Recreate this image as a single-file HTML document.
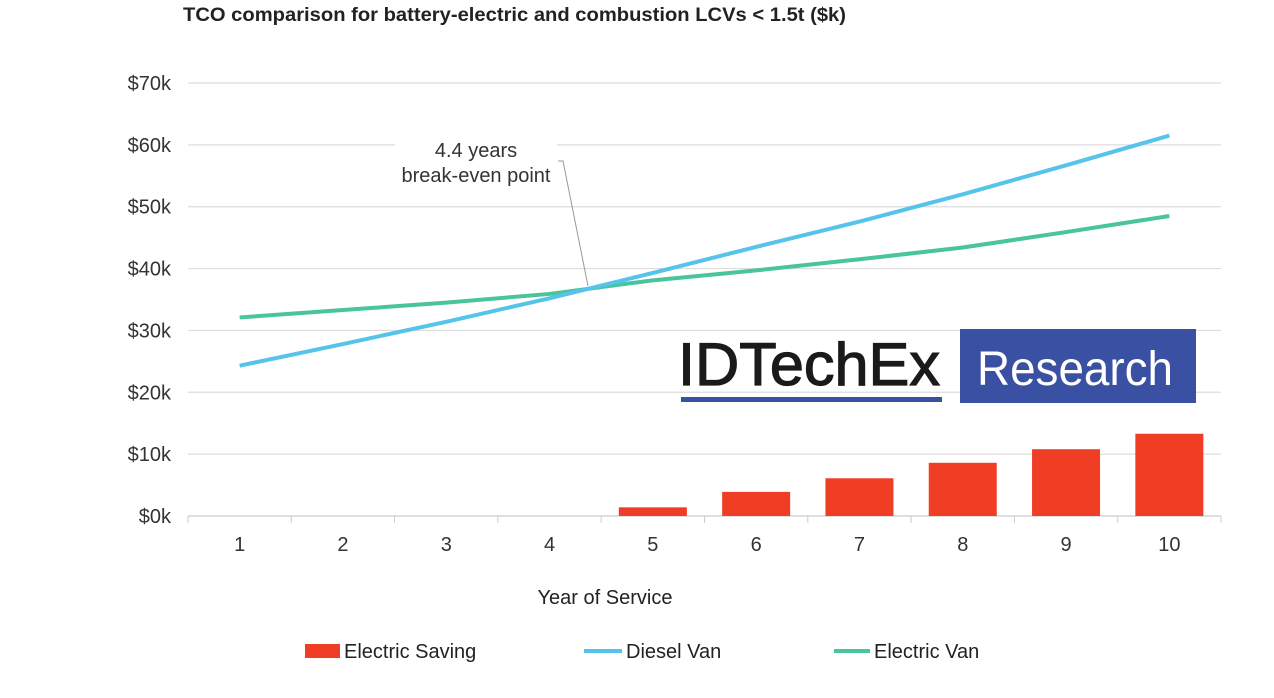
<!DOCTYPE html>
<html><head><meta charset="utf-8"><style>
body{margin:0;background:#fff;width:1274px;height:693px;overflow:hidden;font-family:"Liberation Sans",sans-serif}
</style></head><body>
<svg id="c" width="1274" height="693" xmlns="http://www.w3.org/2000/svg" font-family="Liberation Sans, sans-serif">
<text x="183" y="21" font-size="19.5" font-weight="bold" fill="#222" textLength="663" lengthAdjust="spacingAndGlyphs">TCO comparison for battery-electric and combustion LCVs &lt; 1.5t ($k)</text>
<g id="grid"></g><g id="bars"></g><g id="lines"></g>
<g>
<rect x="395" y="138" width="162" height="52" fill="#fff"/>
<text x="476" y="157" font-size="20" fill="#333" text-anchor="middle">4.4 years</text>
<text x="476" y="182" font-size="20" fill="#333" text-anchor="middle">break-even point</text>
<polyline points="558,161 563,161 588,286" fill="none" stroke="#999" stroke-width="1"/>
</g>
<g>
<text x="678" y="385" font-size="60" fill="#1a1a1a" stroke="#1a1a1a" stroke-width="1.2" textLength="262" lengthAdjust="spacingAndGlyphs">IDTechEx</text>
<rect x="681" y="397" width="261" height="5" fill="#3a50a2"/>
<rect x="960" y="329" width="236" height="74" fill="#3a50a2"/>
<text x="977" y="385" font-size="48" fill="#fff" textLength="196" lengthAdjust="spacingAndGlyphs">Research</text>
</g>
<text x="605" y="604" font-size="20" fill="#222" text-anchor="middle">Year of Service</text>
<g>
<g><rect x="305" y="644" width="35" height="14" fill="#ef3e23"/><text x="344" y="658" font-size="20" fill="#222">Electric Saving</text></g>
<g><line x1="584" y1="651" x2="622" y2="651" stroke="#55c3ea" stroke-width="4"/><text x="626" y="658" font-size="20" fill="#222">Diesel Van</text></g>
<g><line x1="834" y1="651" x2="870" y2="651" stroke="#49c49b" stroke-width="4"/><text x="874" y="658" font-size="20" fill="#222">Electric Van</text></g>
</g>
</svg>
<script>
const years=[1,2,3,4,5,6,7,8,9,10];
const saving=[0,0,0,0,1.4,3.9,6.1,8.6,10.8,13.3];
const diesel=[24.3,27.8,31.4,35.2,39.3,43.5,47.6,52.0,56.7,61.5];
const electric=[32.1,33.3,34.5,35.9,38.1,39.7,41.5,43.4,45.9,48.5];
const yTicks=[0,10,20,30,40,50,60,70];
const yTickLabels=["$0k","$10k","$20k","$30k","$40k","$50k","$60k","$70k"];
const NS="http://www.w3.org/2000/svg";
const L=188,R=1221,Y0=516,Y70=83;
const step=(R-L)/years.length;
const x=i=>L+step*(i+0.5);
const y=v=>Y0-(v/70)*(Y0-Y70);
function mk(t,a,p){const e=document.createElementNS(NS,t);for(const k in a)e.setAttribute(k,a[k]);p.appendChild(e);return e;}
const grid=document.getElementById('grid');
yTicks.forEach((v,i)=>{
  const g=mk('line',{x1:L,x2:R,y1:y(v),y2:y(v),stroke:v===0?'#ccc':'#ddd','stroke-width':1.2},grid);
  
  
  const t=mk('text',{x:171,y:y(v)+7,'font-size':20,fill:'#333','text-anchor':'end'},grid);
  t.textContent=yTickLabels[i];
  
  
});
for(let i=0;i<=years.length;i++){
  const tk=mk('line',{x1:L+step*i,x2:L+step*i,y1:Y0,y2:Y0+7,stroke:'#ccc'},grid);
  
  
}
years.forEach((yr,i)=>{
  const t=mk('text',{x:x(i),y:551,'font-size':20,fill:'#333','text-anchor':'middle'},grid);
  t.textContent=yr;
  
  
});
const bars=document.getElementById('bars');
saving.forEach((v,i)=>{
  if(v<=0)return;
  const b=mk('rect',{x:x(i)-34,y:y(v),width:68,height:Y0-y(v),fill:'#ef3e23'},bars);
  
  
});
const lines=document.getElementById('lines');
[[electric,'#49c49b','electric-van-line'],[diesel,'#55c3ea','diesel-van-line']].forEach(([d,c,n])=>{
  const p=mk('polyline',{points:d.map((v,i)=>x(i)+','+y(v)).join(' '),fill:'none',stroke:c,'stroke-width':4,'stroke-linejoin':'round'},lines);
  
  
});
</script>
</body></html>
